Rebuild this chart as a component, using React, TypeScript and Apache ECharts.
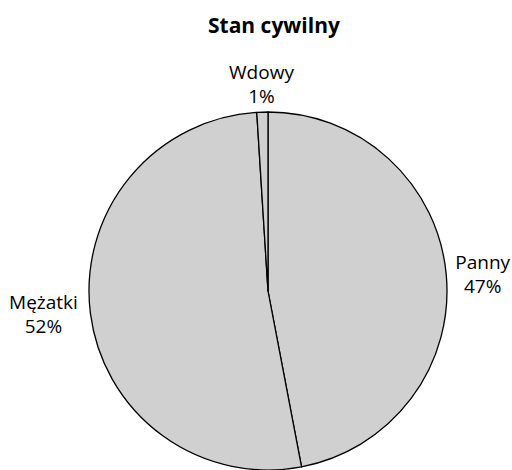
import React, { useEffect, useRef } from "react";
import * as echarts from "echarts";

const categories = ["Panny", "Mężatki", "Wdowy"];
const values = [47, 52, 1];
const labelWidths = [55, 68, 66];
const labelLineLengths = [4, 8, 28];

export default function App() {
  const ref = useRef<HTMLDivElement>(null);
  useEffect(() => {
    if (!ref.current) return;
    const chart = echarts.init(ref.current, null, { renderer: "svg" });
    const data = categories.map((name, i) => ({
      name,
      value: values[i],
      labelLine: { show: false, length: labelLineLengths[i], length2: 0 },
      label: {
        formatter: "{t|{b}}\n{t|{d}%}",
        rich: {
          t: {
            width: labelWidths[i],
            align: "center",
            fontSize: 19,
            lineHeight: 24,
            fontFamily: "Open Sans",
            color: "#000",
          },
        },
      },
    }));
    chart.setOption({
      animation: false,
      backgroundColor: "#fff",
      title: {
        text: "Stan cywilny",
        left: 203,
        top: 9,
        textStyle: {
          fontFamily: "Open Sans",
          fontWeight: "bold",
          fontSize: 21,
          color: "#000",
        },
      },
      series: [
        {
          type: "pie",
          center: [268, 291],
          radius: 179,
          startAngle: 90,
          clockwise: true,
          avoidLabelOverlap: false,
          itemStyle: { color: "#d0d0d0", borderColor: "#000", borderWidth: 1.3 },
          label: { show: true, position: "outside" },
          labelLine: { show: false, length: 8, length2: 0 },
          labelLayout: (params: any) => {
            if (params.dataIndex === 2) {
              return {
                x: params.labelRect.x + params.labelRect.width + 5,
                align: "center",
              };
            }
            return {};
          },
          emphasis: { disabled: true },
          data,
        },
      ],
    });
    return () => chart.dispose();
  }, []);
  return <div ref={ref} style={{ width: 512, height: 470, position: "absolute", left: 0, top: 0 }} />;
}
